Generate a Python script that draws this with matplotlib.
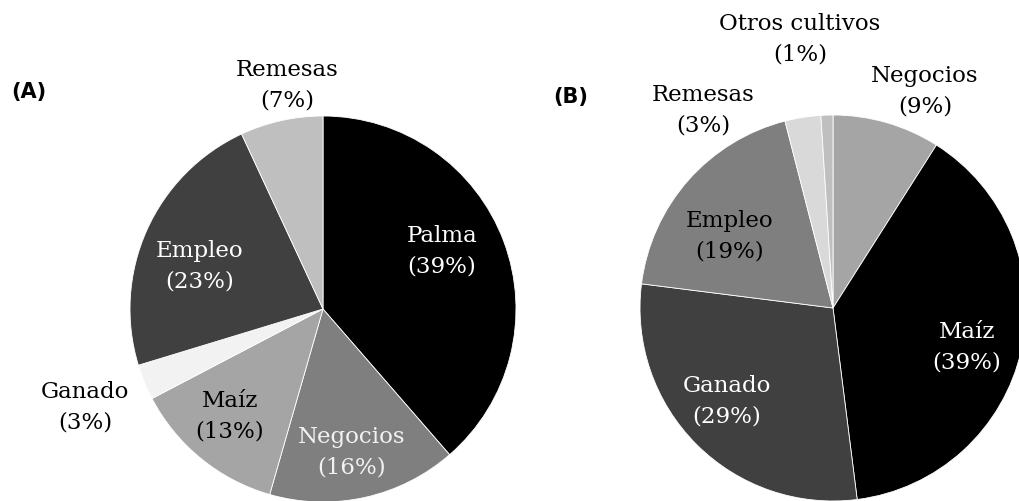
import matplotlib
matplotlib.use("Agg")
import matplotlib.pyplot as plt

# (A) datos
labels_a = ["Palma", "Negocios", "Maíz", "Ganado", "Empleo", "Remesas"]
values_a = [39, 16, 13, 3, 23, 7]
colors_a = ["#000000", "#7f7f7f", "#a5a5a5", "#f2f2f2", "#404040", "#bfbfbf"]
text_a = ["white", "#f2f2f2", "black", "black", "white", "black"]
# posiciones de etiquetas (relativas al radio)
pos_a = [(0.617, 0.30), (0.150, -0.741), (-0.482, -0.554),
         (-1.233, -0.508), (-0.637, 0.223), (-0.187, 1.161)]

# (B) datos
labels_b = ["Negocios", "Maíz", "Ganado", "Empleo", "Remesas", "Otros cultivos"]
values_b = [9, 39, 29, 19, 3, 1]
colors_b = ["#a5a5a5", "#000000", "#404040", "#7f7f7f", "#d9d9d9", "#bfbfbf"]
text_b = ["black", "white", "white", "black", "black", "black"]
pos_b = [(0.477, 1.124), (0.694, -0.202), (-0.549, -0.482),
         (-0.534, 0.373), (-0.674, 1.026), (-0.171, 1.394)]

W, H = 1019, 501
R = 193
fig = plt.figure(figsize=(W / 100, H / 100), dpi=100)


def draw_pie(cx, cy, labels, values, colors, tcolors, pos, tag, tag_xy):
    ax = fig.add_axes([(cx - R) / W, (H - cy - R) / H, 2 * R / W, 2 * R / H])
    ax.pie(values, colors=colors, startangle=90, counterclock=False, radius=1,
           wedgeprops=dict(edgecolor="white", linewidth=0.6))
    ax.set_xlim(-1, 1)
    ax.set_ylim(-1, 1)
    ax.set_aspect("equal")
    ax.axis("off")
    for lab, v, c, (x, y) in zip(labels, values, tcolors, pos):
        ax.text(x, y, f"{lab}\n({v}%)", ha="center", va="center", color=c,
                family="DejaVu Serif", fontsize=16.5, linespacing=1.5)
    fig.text(tag_xy[0] / W, 1 - tag_xy[1] / H, tag, ha="center", va="center",
             fontsize=15, fontweight="bold", family="DejaVu Sans")


draw_pie(323, 309, labels_a, values_a, colors_a, text_a, pos_a, "(A)", (29, 92))
draw_pie(833, 308, labels_b, values_b, colors_b, text_b, pos_b, "(B)", (571, 97))

fig.savefig("out.png", dpi=100)
